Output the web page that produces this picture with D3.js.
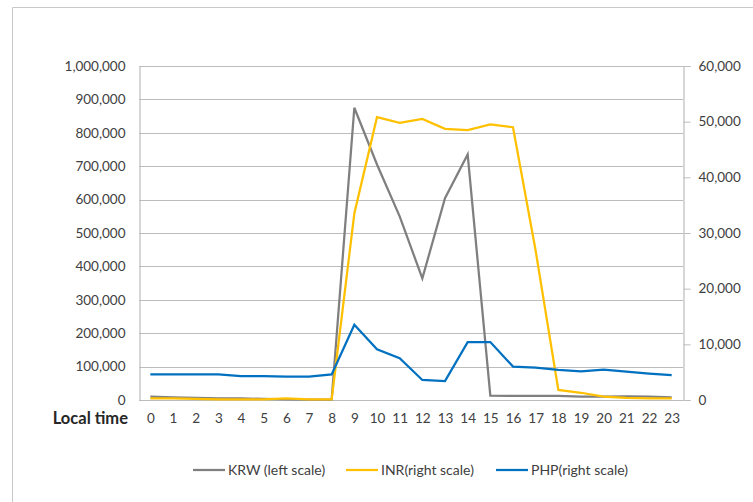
<!DOCTYPE html>
<html>
<head>
<meta charset="utf-8">
<script src="https://cdn.jsdelivr.net/npm/d3@7"></script>
<style>
  body { margin: 0; background: #fff; }
  svg { display: block; }
  text { font-family: Lato, "Open Sans", sans-serif; fill: #404040; }
</style>
</head>
<body>
<svg id="canvas" width="753" height="502"></svg>
<script>
// hours of the day
const hours = d3.range(0, 24).map(String);

// KRW volume, left scale
const krw = [10000, 8000, 6000, 5000, 5000, 3000, 2000, 1000, 1000,
             875000, 705000, 550000, 364000, 604000, 735000,
             13000, 12000, 12000, 12000, 10000, 10000, 11000, 10000, 8000];

// INR volume, right scale
const inr = [300, 300, 200, 100, 100, 100, 300, 100, 100,
             33500, 50800, 49800, 50500, 48700, 48500, 49500, 49000,
             26800, 1800, 1300, 600, 400, 300, 300];

// PHP volume, right scale
const php = [4600, 4600, 4600, 4600, 4300, 4300, 4200, 4200, 4600,
             13500, 9100, 7500, 3600, 3400, 10400, 10400,
             6000, 5800, 5400, 5150, 5450, 5100, 4750, 4450];

const leftTicks = d3.range(0, 1000001, 100000);
const rightTicks = d3.range(0, 60001, 10000);

const legendItems = [
    {name: "KRW (left scale)", color: "#7f7f7f"},
    {name: "INR(right scale)", color: "#ffc000"},
    {name: "PHP(right scale)", color: "#0070c0"}
];

const svg = d3.select('#canvas');
const plotLeft = 139, plotRight = 683, plotTop = 66, plotBottom = 400;
const fmt = d3.format(",");

// outer frame of the chart area
svg.append('path')
    .attr('d', `M12.5,760 V7.5 H760`)
    .attr('fill', 'none')
    .attr('stroke', '#c8c8c8');

let x = d3.scalePoint().domain(hours).range([plotLeft, plotRight]).padding(0.5);
let yLeft = d3.scaleLinear().domain([0, 1000000]).range([plotBottom, plotTop]);
let yRight = d3.scaleLinear().domain([0, 60000]).range([plotBottom, plotTop]);

// gridlines
svg.append('g').selectAll('line')
    .data(leftTicks)
    .join('line')
    .attr('x1', plotLeft).attr('x2', plotRight)
    .attr('y1', d => Math.round(yLeft(d)) + 0.5)
    .attr('y2', d => Math.round(yLeft(d)) + 0.5)
    .attr('stroke', '#bcbcbc')
    .attr('stroke-width', 1.2);

// left axis: labels only, plus the line
let leftAxis = svg.append('g')
    .attr('transform', `translate(${plotLeft + 0.5},0)`)
    .call(d3.axisLeft(yLeft).tickValues(leftTicks).tickFormat(fmt).tickSize(0).tickPadding(14));

// right axis with outward ticks
let rightAxis = svg.append('g')
    .attr('transform', `translate(${plotRight + 0.5},0)`)
    .call(d3.axisRight(yRight).tickValues(rightTicks).tickFormat(fmt).tickSize(7).tickPadding(8));

// bottom axis: category labels, no ticks
let bottomAxis = svg.append('g')
    .attr('transform', `translate(0,${plotBottom})`)
    .call(d3.axisBottom(x).tickSize(0).tickPadding(13));

for (let ax of [leftAxis, rightAxis, bottomAxis]) {
    ax.select('.domain').attr('stroke', '#bcbcbc').attr('stroke-width', 1.2);
    ax.selectAll('.tick line').attr('stroke', '#bcbcbc');
    ax.selectAll('text')
        .style('font-family', 'Lato, "Open Sans", sans-serif')
        .style('font-size', '13.5px')
        .attr('fill', '#404040');
}
bottomAxis.select('.domain').remove();

svg.append('text')
    .attr('x', 128)
    .attr('y', 424)
    .attr('text-anchor', 'end')
    .style('font-size', '16.5px')
    .style('font-weight', 'bold')
    .style('fill', '#262626')
    .text('Local time');

// series lines
const series = [
    {values: krw, scale: yLeft, color: legendItems[0].color},
    {values: inr, scale: yRight, color: legendItems[1].color},
    {values: php, scale: yRight, color: legendItems[2].color}
];

for (let s of series) {
    let line = d3.line()
        .x((d, i) => x(hours[i]))
        .y(d => s.scale(d));
    svg.append('path')
        .datum(s.values)
        .attr('d', line)
        .attr('fill', 'none')
        .attr('stroke', s.color)
        .attr('stroke-width', 2.25)
        .attr('stroke-linejoin', 'miter');
}

// legend
const legendX = [193, 346, 496];
let legend = svg.append('g').selectAll('g')
    .data(legendItems)
    .join('g')
    .attr('transform', (d, i) => `translate(${legendX[i]},470)`);

legend.append('line')
    .attr('x1', 0).attr('x2', 32)
    .attr('stroke', d => d.color)
    .attr('stroke-width', 2.25);

legend.append('text')
    .attr('x', 35)
    .attr('y', 5)
    .style('font-size', '14px')
    .text(d => d.name);
</script>
</body>
</html>
